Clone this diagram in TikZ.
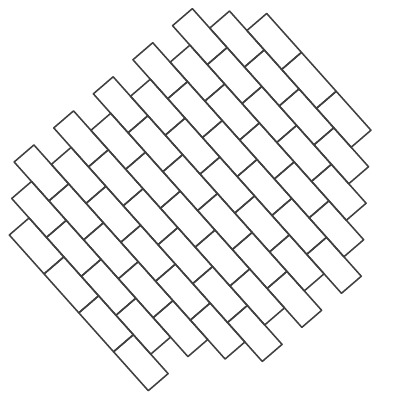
\documentclass[tikz,border=0pt]{standalone}
\usepackage{tikz}
\tikzstyle{brick} = [draw=black!75, line width=1.1pt, line join=round]

\begin{document}
\begin{tikzpicture}
  \useasboundingbox (0,0) rectangle (10,10);
  \begin{scope}[shift={(0.2325,4.125)}, x={(0.4344cm,-0.4865cm)}, y={(0.495cm,0.426cm)}]
    % course / first half-brick / last half-brick
    \foreach \k/\a/\b in {0/0/8, 1/-1/7, 2/-2/8, 3/-1/9, 4/-2/10, 5/-1/9, 6/-2/10,
                          7/-1/9, 8/-2/10, 9/-1/9, 10/-2/8, 11/-1/7, 12/0/6} {
      \pgfmathtruncatemacro{\nxt}{\a+2}
      \pgfmathtruncatemacro{\last}{\b-2}
      \foreach \s in {\a,\nxt,...,\last}
        \draw[brick] (\s,\k) -- ++(2,0) -- ++(0,1) -- ++(-2,0) -- cycle;
    }
  \end{scope}
\end{tikzpicture}
\end{document}
